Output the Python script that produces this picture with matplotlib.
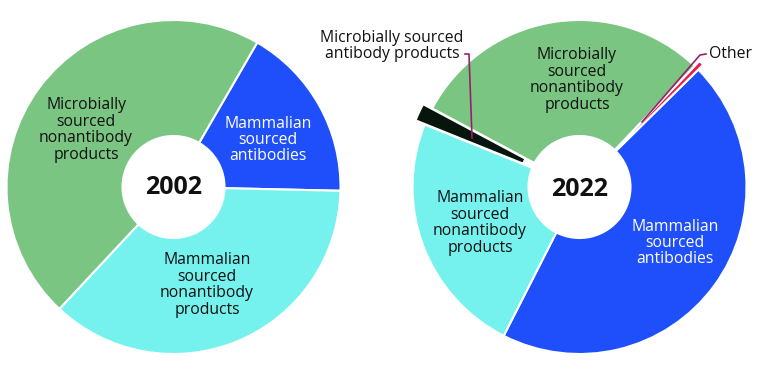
import matplotlib
matplotlib.use("Agg")
import matplotlib.pyplot as plt

plt.rcParams['font.family'] = ['Open Sans', 'DejaVu Sans']

# ---- data ----
years = ["2002", "2022"]
cats_2002 = ["Mammalian sourced antibodies", "Microbially sourced nonantibody products",
             "Mammalian sourced nonantibody products"]
vals_2002 = [17.0, 46.4, 36.6]
cats_2022 = ["Mammalian sourced antibodies", "Other", "Microbially sourced nonantibody products",
             "Microbially sourced antibody products", "Mammalian sourced nonantibody products"]
vals_2022 = [44.9, 0.5, 29.3, 1.7, 23.6]

# ---- style ----
GREEN = "#7bc582"
BLUE = "#1f4ffa"
CYAN = "#76f2ee"
BLACK = "#06160c"
RED = "#ec1b4f"
LEAD = "#9a1f6a"
colors_2002 = [BLUE, GREEN, CYAN]
colors_2022 = [BLUE, RED, GREEN, BLACK, CYAN]
explode_2022 = [0, 7, 0, 10, 0]

H = 371
R = 167
HOLE = 51

fig = plt.figure(figsize=(7.68, 3.71), dpi=100)
ax = fig.add_axes([0, 0, 1, 1])

wp = dict(width=R - HOLE, edgecolor="white", linewidth=1.5)
ax.pie(vals_2002, colors=colors_2002, startangle=-1.3, counterclock=True,
       center=(173.5, H - 187), radius=R, wedgeprops=wp)
ax.pie(vals_2022, colors=colors_2022, startangle=243, counterclock=True,
       explode=explode_2022, center=(579.5, H - 187), radius=R, wedgeprops=wp)

ax.set_xlim(0, 768)
ax.set_ylim(0, H)
ax.set_aspect('equal')
ax.axis('off')

fs = 11.3
FW = 500
def lab(x, y, s, color="#111111", **kw):
    ax.text(x, H - y, s, ha="center", va="center", fontsize=fs, color=color,
            linespacing=1.03, fontweight=FW, **kw)

# 2002 labels
lab(86, 130, "Microbially\nsourced\nnonantibody\nproducts")
lab(268, 140, "Mammalian\nsourced\nantibodies", color="white")
lab(207, 285, "Mammalian\nsourced\nnonantibody\nproducts")
ax.text(173.5, H - 188, years[0], ha="center", va="center", fontsize=18,
        fontweight="bold", color="#111111")

# 2022 labels
lab(577, 80, "Microbially\nsourced\nnonantibody\nproducts")
lab(675, 243, "Mammalian\nsourced\nantibodies", color="white")
lab(480, 223, "Mammalian\nsourced\nnonantibody\nproducts")
ax.text(579.5, H - 189, years[1], ha="center", va="center", fontsize=18,
        fontweight="bold", color="#111111")
lab(392, 46, "Microbially sourced\nantibody products")
ax.text(709, H - 54, "Other", ha="left", va="center", fontsize=fs, color="#111111",
        fontweight=FW)

# leader lines
ax.plot([465, 469, 472], [H - 54, H - 54, H - 138], color=LEAD, lw=1.2)
ax.plot([706, 700, 642], [H - 54, H - 55, H - 122], color=LEAD, lw=1.2)

fig.savefig("out.png", dpi=100)
